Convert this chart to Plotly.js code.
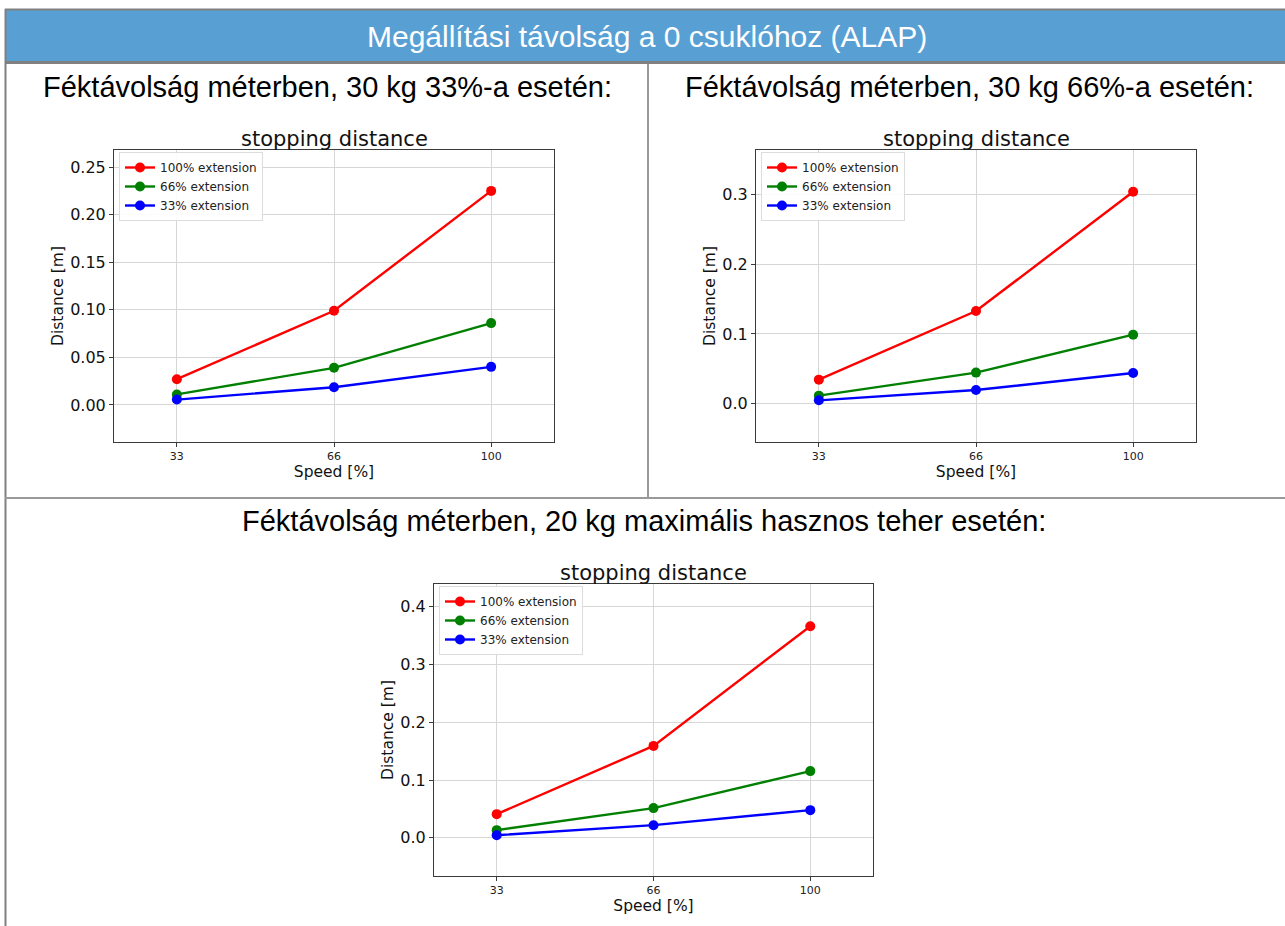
<!DOCTYPE html>
<html>
<head>
<meta charset="utf-8">
<script src="https://cdn.plot.ly/plotly-3.0.1.min.js"></script>
<style>
  html, body { margin: 0; padding: 0; background: #ffffff; }
  #chart { width: 1285px; height: 926px; }
</style>
</head>
<body>
<div id="chart"></div>
<script>
// ---------------- data ----------------
const speeds = ['33', '66', '100'];
const seriesNames = ['100% extension', '66% extension', '33% extension'];
const seriesColors = ['#ff0000', '#008000', '#0000ff'];

// 30 kg, 33%
const chart1_ext100 = [0.027, 0.099, 0.225];
const chart1_ext66  = [0.011, 0.039, 0.086];
const chart1_ext33  = [0.0056, 0.0186, 0.040];
// 30 kg, 66%
const chart2_ext100 = [0.0345, 0.133, 0.304];
const chart2_ext66  = [0.0115, 0.0446, 0.099];
const chart2_ext33  = [0.0048, 0.0196, 0.044];
// 20 kg max payload
const chart3_ext100 = [0.041, 0.159, 0.366];
const chart3_ext66  = [0.0133, 0.0514, 0.1154];
const chart3_ext33  = [0.0046, 0.0219, 0.0479];

const headerText = 'Megállítási távolság a 0 csuklóhoz (ALAP)';
const headings = [
  'Féktávolság méterben, 30 kg 33%-a esetén:',
  'Féktávolság méterben, 30 kg 66%-a esetén:',
  'Féktávolság méterben, 20 kg maximális hasznos teher esetén:'
];
const plotTitle = 'stopping distance';
const xTitle = 'Speed [%]';
const yTitle = 'Distance [m]';

// ---------------- layout helpers ----------------
const W = 1285, H = 926;
const fx = p => p / W;
const fy = p => 1 - p / H;

const panels = [
  { data: [chart1_ext100, chart1_ext66, chart1_ext33], x0: 114, x1: 554, y0: 150, y1: 442,
    yrange: [-0.039, 0.268], dtick: 0.05, fmt: '.2f', headX: 327, headY: 87 },
  { data: [chart2_ext100, chart2_ext66, chart2_ext33], x0: 756, x1: 1196, y0: 150, y1: 442,
    yrange: [-0.055, 0.364], dtick: 0.1, fmt: '.1f', headX: 969, headY: 87 },
  { data: [chart3_ext100, chart3_ext66, chart3_ext33], x0: 434, x1: 873, y0: 584, y1: 876,
    yrange: [-0.066, 0.439], dtick: 0.1, fmt: '.1f', headX: 644, headY: 521 }
];

const FONT = 'DejaVu Sans, sans-serif';
const HFONT = 'Liberation Sans, Arial, sans-serif';

const traces = [];
const layout = {
  width: W, height: H,
  margin: { l: 0, r: 0, t: 0, b: 0 },
  paper_bgcolor: '#ffffff',
  plot_bgcolor: '#ffffff',
  showlegend: true,
  shapes: [],
  annotations: []
};

panels.forEach((p, i) => {
  const n = i === 0 ? '' : String(i + 1);
  const xa = 'x' + n, ya = 'y' + n;
  const leg = 'legend' + n;
  p.data.forEach((vals, s) => {
    traces.push({
      type: 'scatter', mode: 'lines+markers',
      x: speeds, y: vals, xaxis: xa, yaxis: ya,
      name: seriesNames[s], legend: leg,
      line: { color: seriesColors[s], width: 2.4 },
      marker: { color: seriesColors[s], size: 10 },
      hoverinfo: 'x+y+name'
    });
  });
  layout['xaxis' + n] = {
    domain: [fx(p.x0), fx(p.x1)], anchor: ya,
    type: 'category', categoryorder: 'array', categoryarray: speeds,
    range: [-0.4, 2.4],
    showline: true, mirror: true, linecolor: '#3a3a3a', linewidth: 1,
    ticks: 'outside', ticklen: 4, tickcolor: '#3a3a3a',
    showgrid: true, gridcolor: '#d6d6d6', gridwidth: 1, zeroline: false,
    tickfont: { family: FONT, size: 11, color: '#222' },
    title: { text: xTitle, font: { family: FONT, size: 15.5, color: '#111' }, standoff: 2 }
  };
  layout['yaxis' + n] = {
    domain: [fy(p.y1), fy(p.y0)], anchor: xa,
    range: p.yrange, dtick: p.dtick, tick0: 0, tickformat: p.fmt,
    showline: true, mirror: true, linecolor: '#3a3a3a', linewidth: 1,
    ticks: 'outside', ticklen: 4, tickcolor: '#3a3a3a',
    showgrid: true, gridcolor: '#d6d6d6', gridwidth: 1, zeroline: false,
    tickfont: { family: FONT, size: 16, color: '#111' },
    title: { text: yTitle, font: { family: FONT, size: 15.5, color: '#111' }, standoff: 2 }
  };
  layout[leg] = {
    x: fx(p.x0 + 5), y: fy(p.y0 + 2), xanchor: 'left', yanchor: 'top',
    bgcolor: 'rgba(255,255,255,0.9)', bordercolor: '#dcdcdc', borderwidth: 1,
    font: { family: FONT, size: 12, color: '#222' },
    tracegroupgap: 0, itemwidth: 30
  };
  // subplot title
  layout.annotations.push({
    text: plotTitle, xref: 'paper', yref: 'paper',
    x: fx((p.x0 + p.x1) / 2), y: fy(p.y0), xanchor: 'center', yanchor: 'bottom', yshift: -3,
    showarrow: false, font: { family: FONT, size: 21, color: '#111' }
  });
  // cell heading
  layout.annotations.push({
    text: headings[i], xref: 'paper', yref: 'paper',
    x: fx(p.headX), y: fy(p.headY), xanchor: 'center', yanchor: 'middle',
    showarrow: false, font: { family: HFONT, size: 29, color: '#000' }
  });
});

// header band
layout.shapes.push({ type: 'rect', xref: 'paper', yref: 'paper',
  x0: fx(6), x1: fx(1295), y0: fy(61), y1: fy(10), fillcolor: '#58a0d4', line: { width: 0 }, layer: 'below' });
layout.annotations.push({
  text: headerText, xref: 'paper', yref: 'paper',
  x: fx(646.5), y: fy(37), xanchor: 'center', yanchor: 'middle',
  showarrow: false, font: { family: HFONT, size: 30, color: '#ffffff' }
});
// table borders
const grayLine = (x0, y0, x1, y1, w, c) => layout.shapes.push({
  type: 'line', xref: 'paper', yref: 'paper', x0: fx(x0), y0: fy(y0), x1: fx(x1), y1: fy(y1),
  line: { color: c, width: w }, layer: 'above'
});
grayLine(5, 9.5, 1300, 9.5, 2, '#808080');      // top border
grayLine(5.5, 9, 5.5, 930, 2, '#808080');       // left border
grayLine(5, 62.5, 1300, 62.5, 3, '#808080');    // under header
grayLine(648, 64, 648, 498, 2, '#9a9a9a');      // vertical divider
grayLine(5, 498, 1300, 498, 2, '#9a9a9a');      // horizontal divider

Plotly.newPlot('chart', traces, layout, { displayModeBar: false, staticPlot: true });
</script>
</body>
</html>
